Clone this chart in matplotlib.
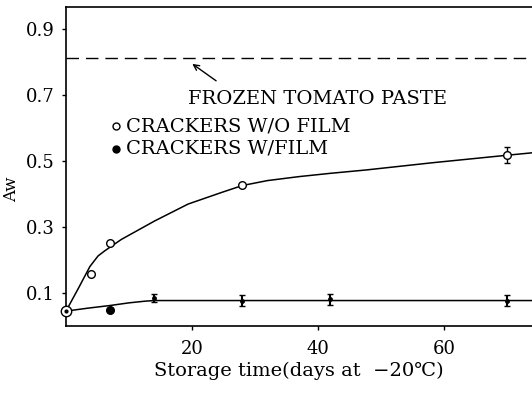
import matplotlib.pyplot as plt
import numpy as np

plt.rcParams['font.family'] = ['DejaVu Serif']

# measured water activity, crackers stored without film
days_nofilm = [0, 4, 7, 28, 70]
aw_nofilm = [0.045, 0.158, 0.252, 0.428, 0.517]
err_nofilm = [0, 0, 0, 0, 0.025]

# measured water activity, crackers stored with film
days_film = [0, 7, 14, 28, 42, 70]
aw_film = [0.045, 0.048, 0.085, 0.077, 0.081, 0.077]
err_film = [0, 0, 0.012, 0.017, 0.017, 0.016]

# hand-drawn fitted curves
curve_nofilm_x = [0, 2, 3.8, 5.1, 6.2, 8.8, 14.1, 19.4, 24.7, 28, 32, 37, 42, 47.6, 58.2, 69.7, 74]
curve_nofilm_y = [0.045, 0.115, 0.18, 0.212, 0.228, 0.262, 0.318, 0.369, 0.404, 0.425,
                  0.440, 0.452, 0.462, 0.472, 0.494, 0.516, 0.524]
curve_film_x = [0, 3.5, 7, 10, 12.5, 14, 74]
curve_film_y = [0.045, 0.054, 0.062, 0.070, 0.075, 0.077, 0.077]

tomato_paste_aw = 0.81

fig = plt.figure(figsize=(5.32, 3.93), dpi=100)
ax = fig.add_axes([0.124, 0.1705, 0.876, 0.8115])

ax.plot(curve_nofilm_x, curve_nofilm_y, color='black', lw=1.1)
ax.plot(curve_film_x, curve_film_y, color='black', lw=1.1)

# open circles
ax.errorbar(days_nofilm, aw_nofilm, yerr=err_nofilm, fmt='o', ms=5.5, mfc='white',
            mec='black', mew=1.0, ecolor='black', elinewidth=1.0, capsize=2.5, zorder=3)
# filled circles
ax.errorbar(days_film[2:], aw_film[2:], yerr=err_film[2:], fmt='o', ms=2.5, color='black',
            elinewidth=1.5, capsize=2, zorder=3)
ax.plot(days_film[1], aw_film[1], 'o', ms=5.5, color='black', zorder=3)
ax.plot(days_film[0], aw_film[0], 'o', ms=7.5, mfc='white', mec='black', mew=1.0,
        clip_on=False, zorder=4)
ax.plot(days_film[0], aw_film[0], 'o', ms=2, color='black', clip_on=False, zorder=5)

# frozen tomato paste level
ax.axhline(tomato_paste_aw, color='black', lw=1.0, dashes=(9, 5))
ax.annotate('', xy=(19.7, 0.798), xytext=(24.2, 0.737),
            arrowprops=dict(arrowstyle='->', color='black', lw=1.0))
ax.text(19.4, 0.688, 'FROZEN TOMATO PASTE', fontsize=14, va='center', ha='left')

# legend drawn by hand
ax.plot(7.9, 0.604, 'o', ms=5, mfc='white', mec='black', mew=1.0)
ax.text(9.6, 0.604, 'CRACKERS W/O FILM', fontsize=14, va='center', ha='left')
ax.plot(7.9, 0.537, 'o', ms=5, color='black')
ax.text(9.6, 0.537, 'CRACKERS W/FILM', fontsize=14, va='center', ha='left')

ax.set_xlim(0, 74)
ax.set_ylim(0, 0.965)
ax.set_xticks([20, 40, 60])
ax.set_yticks([0.1, 0.3, 0.5, 0.7, 0.9])
ax.set_yticklabels(['0.1', '0.3', '0.5', '0.7', '0.9'])
ax.tick_params(direction='out', length=3, width=1, labelsize=13)
ax.tick_params(axis='x', pad=7)
ax.tick_params(axis='y', pad=5)
ax.spines['right'].set_visible(False)
for s in ['left', 'bottom', 'top']:
    ax.spines[s].set_linewidth(1.2)

ax.set_xlabel('Storage time(days at  \u221220\u2103)', fontsize=14, labelpad=3)
ax.set_ylabel('Aw', fontsize=12)
ax.yaxis.set_label_coords(-0.098, 0.43)

plt.savefig('out.png', dpi=100)
